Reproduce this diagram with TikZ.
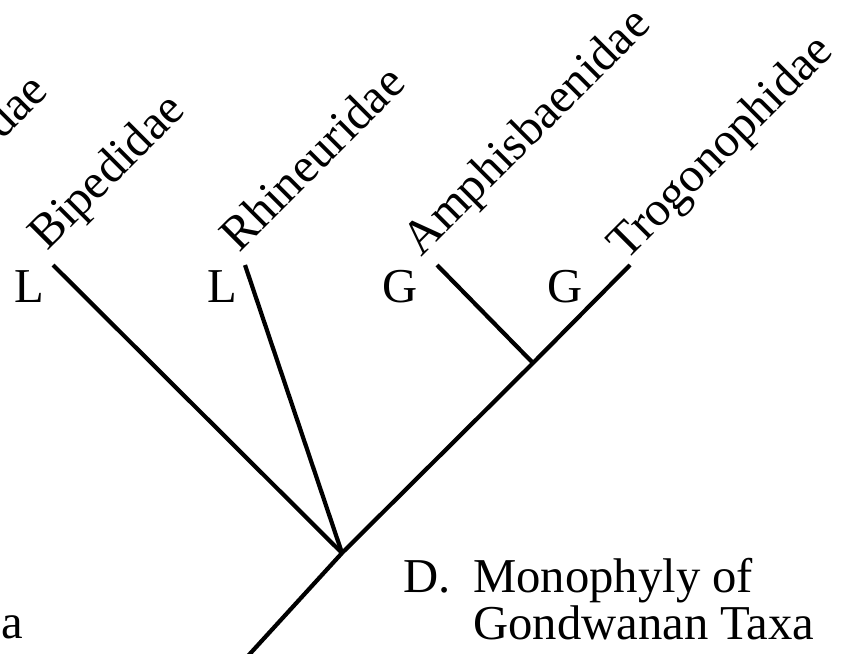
\documentclass[tikz,border=0pt]{standalone}
\usepackage{fontspec}
\setmainfont{Liberation Serif}

\begin{document}
\begin{tikzpicture}[x=0.75pt, y=-0.75pt, font=\fontsize{36.5}{34.5}\selectfont]
  \useasboundingbox (0,0) rectangle (862,653);
  \clip (0,0) rectangle (862,653);
  \tikzset{branch/.style={line width=3.15pt}, taxon/.style={rotate=45, anchor=base west, inner sep=0pt},
           area/.style={anchor=base, inner sep=0pt}}
  % ---- tips and internal nodes of the tree ----
  \coordinate (root) at (247,657);
  \coordinate (amphi) at (342,553);
  \coordinate (gond) at (533,363);
  \foreach \n/\x in {bip/53, rhi/245, amp/437, tro/630} { \coordinate (\n) at (\x,265); }
  % ---- branches ----
  \draw[branch] (root) -- (amphi) -- (gond) -- (tro);
  \draw[branch] (bip) -- (amphi);
  \draw[branch] (rhi) -- (amphi);
  \draw[branch] (amp) -- (gond);
  % ---- taxon names, slanted ----
  \foreach \n/\x/\y/\t in {bip/47/252/Bipedidae, rhi/239/254/Rhineuridae, amp/421/258/Amphisbaenidae,
                           tro/626/262/Trogonophidae} {
    \node[taxon] (\n-name) at (\x,\y) {\t};
  }
  \node[taxon, anchor=base east] (cut-name) at (50,93) {dae};
  % ---- areas: L = Laurasia, G = Gondwana ----
  \foreach \n/\x/\t in {bip/29/L, rhi/222/L, amp/400/G, tro/565/G} {
    \node[area] (\n-area) at (\x,302) {\t};
  }
  % ---- panel captions ----
  \node[anchor=base west, inner sep=0pt] (caption) at (403,592)
    {\begin{tabular}[t]{@{}l@{\hspace{17pt}}l@{}}D. & Monophyly of\\ & Gondwanan Taxa\end{tabular}};
  \node[anchor=base west, inner sep=0pt] (prev-caption) at (1,638) {a};
\end{tikzpicture}
\end{document}
